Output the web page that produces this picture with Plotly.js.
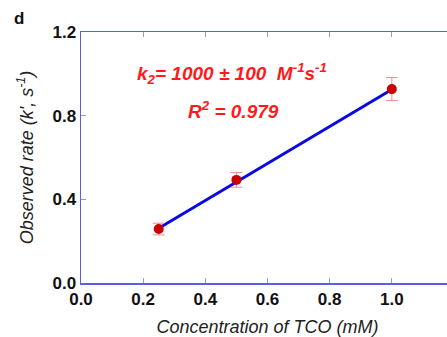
<!DOCTYPE html>
<html>
<head>
<meta charset="utf-8">
<script src="https://cdn.plot.ly/plotly-3.0.1.min.js"></script>
<style>
html,body{margin:0;padding:0;overflow:hidden;background:#fff;}
#chart{width:455px;height:337px;}
</style>
</head>
<body>
<div id="chart"></div>
<script>
// Data
var concentration = [0.25, 0.5, 1.0];          // mM TCO
var observedRate  = [0.258, 0.493, 0.927];     // k', s^-1
var rateError     = [0.028, 0.035, 0.055];
var fitX = [0.25, 1.0];
var fitY = [0.262, 0.925];
var xTicks = [0, 0.2, 0.4, 0.6, 0.8, 1.0];
var xTickLabels = ['0.0', '0.2', '0.4', '0.6', '0.8', '1.0'];
var yTicks = [0, 0.4, 0.8, 1.2];
var yTickLabels = ['0.0', '0.4', '0.8', '1.2'];

var axisColor = 'rgb(92,92,240)';
var tickColor = 'rgb(150,150,240)';
var tickFont = {family: 'Liberation Sans, Arial, sans-serif', size: 17, color: '#111', weight: 'bold'};
var titleFont = {family: 'Liberation Sans, Arial, sans-serif', size: 18, color: '#222', style: 'italic'};
var redFont = {family: 'Liberation Sans, Arial, sans-serif', size: 19, color: '#ff1a1a', weight: 'bold', style: 'italic'};

var traces = [
  {
    x: fitX, y: fitY, mode: 'lines', type: 'scatter',
    line: {color: '#0a0ae0', width: 3},
    hoverinfo: 'skip', showlegend: false
  },
  {
    x: concentration, y: observedRate, mode: 'markers', type: 'scatter',
    marker: {color: '#cc0000', size: 10},
    error_y: {type: 'data', array: rateError, visible: true, color: 'rgba(240,120,120,0.85)', thickness: 1, width: 6},
    showlegend: false
  }
];

var layout = {
  width: 455, height: 337,
  margin: {l: 81, r: 1, t: 32, b: 54},
  paper_bgcolor: '#fff', plot_bgcolor: '#fff',
  showlegend: false,
  xaxis: {
    range: [0, 1.2],
    tickvals: xTicks, ticktext: xTickLabels,
    ticks: 'inside', ticklen: 5, tickcolor: tickColor, tickwidth: 1,
    showline: true, linecolor: axisColor, linewidth: 1.5, mirror: 'ticks',
    showgrid: false, zeroline: false,
    tickfont: tickFont,
    title: {text: 'Concentration of TCO (mM)', font: titleFont, standoff: 15}
  },
  yaxis: {
    range: [0, 1.2],
    tickvals: yTicks, ticktext: yTickLabels,
    ticks: 'inside', ticklen: 5, tickcolor: tickColor, tickwidth: 1,
    showline: true, linecolor: axisColor, linewidth: 1.5, mirror: 'ticks',
    showgrid: false, zeroline: false,
    tickfont: tickFont,
    title: {text: "Observed rate (k', s<sup>-1</sup>)", font: titleFont, standoff: 14}
  },
  annotations: [
    {text: 'k<sub>2</sub>= 1000 ± 100&nbsp;&nbsp;M<sup>-1</sup>s<sup>-1</sup>', xref: 'paper', yref: 'paper',
     x: (232 - 81) / 373, y: (283 - 73) / 251, showarrow: false, font: redFont, xanchor: 'center', yanchor: 'middle'},
    {text: 'R<sup>2</sup> = 0.979', xref: 'paper', yref: 'paper',
     x: (233 - 81) / 373, y: (283 - 110) / 251, showarrow: false, font: redFont, xanchor: 'center', yanchor: 'middle'},
    {text: 'd', xref: 'paper', yref: 'paper', x: (12 - 81) / 373, y: (283 - 18) / 251,
     showarrow: false, xanchor: 'left', yanchor: 'middle',
     font: {family: 'Liberation Sans, Arial, sans-serif', size: 17, color: '#111', weight: 'bold'}}
  ]
};

Plotly.newPlot('chart', traces, layout, {displayModeBar: false, staticPlot: true});
</script>
</body>
</html>
